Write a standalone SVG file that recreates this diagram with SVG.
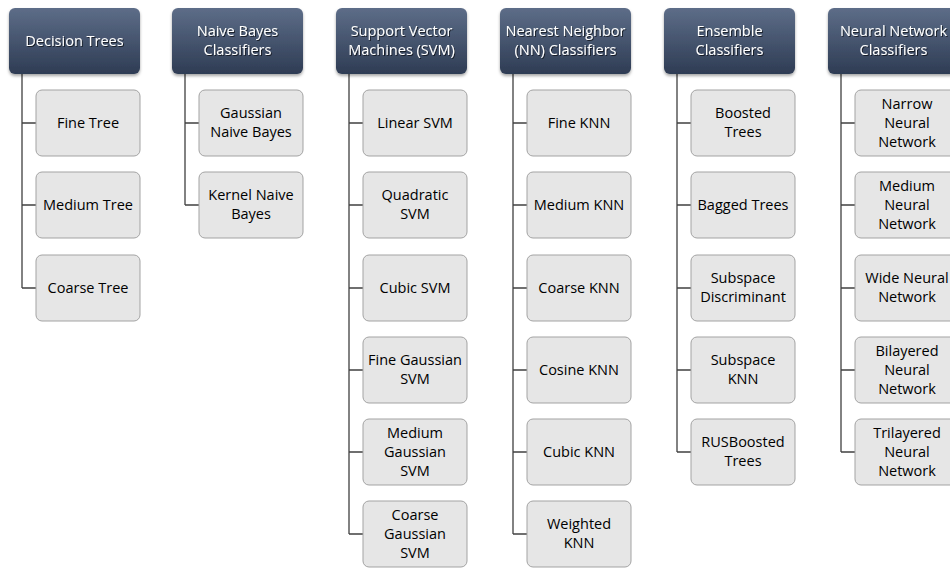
<svg xmlns="http://www.w3.org/2000/svg" width="950" height="568" viewBox="0 0 950 568">
  <defs>
    <linearGradient id="hdrGrad" x1="0" y1="0" x2="0" y2="1">
      <stop offset="0" stop-color="#5d6d88"/>
      <stop offset="1" stop-color="#2e3c54"/>
    </linearGradient>
    <filter id="shadow" x="-10%" y="-10%" width="130%" height="140%">
      <feDropShadow dx="0" dy="2" stdDeviation="1.5" flood-color="#000" flood-opacity="0.35"/>
    </filter>
    <filter id="txtShadow" x="-10%" y="-20%" width="120%" height="150%">
      <feDropShadow dx="1" dy="1" stdDeviation="0.6" flood-color="#000" flood-opacity="0.6"/>
    </filter>
  </defs>
  <style>
    .hdr rect { fill: url(#hdrGrad); filter: url(#shadow); }
    .hdr text { fill: #ffffff; font-family: "Open Sans", "Liberation Sans", sans-serif; font-size: 14.5px; text-anchor: middle; filter: url(#txtShadow); }
    .leaf rect { fill: #e6e6e6; stroke: #a3a3a3; stroke-width: 1; }
    .leaf text { fill: #000000; font-family: "Open Sans", "Liberation Sans", sans-serif; font-size: 14.5px; text-anchor: middle; }
    .conn path { fill: none; stroke: #404040; stroke-width: 1.3; }
  </style>
  <rect width="950" height="568" fill="#ffffff"/>

  <!-- tree connectors -->
  <g id="connectors" class="conn">
    <path d="M22 74 V288 M22 123 H36 M22 205 H36 M22 288 H36"/>
    <path d="M185 74 V205 M185 123 H199 M185 205 H199"/>
    <path d="M349 74 V534 M349 123 H363 M349 205 H363 M349 288 H363 M349 370 H363 M349 452 H363 M349 534 H363"/>
    <path d="M513 74 V534 M513 123 H527 M513 205 H527 M513 288 H527 M513 370 H527 M513 452 H527 M513 534 H527"/>
    <path d="M677 74 V452 M677 123 H691 M677 205 H691 M677 288 H691 M677 370 H691 M677 452 H691"/>
    <path d="M841 74 V452 M841 123 H855 M841 205 H855 M841 288 H855 M841 370 H855 M841 452 H855"/>
  </g>

  <!-- category headers -->
  <g id="hdr-decision-trees" class="hdr"><rect x="9" y="8" width="131" height="66" rx="6"/><text x="74.5" y="46">Decision Trees</text></g>
  <g id="hdr-naive-bayes" class="hdr"><rect x="172" y="8" width="131" height="66" rx="6"/><text x="237.5" y="36">Naive Bayes</text><text x="237.5" y="55">Classifiers</text></g>
  <g id="hdr-svm" class="hdr"><rect x="336" y="8" width="131" height="66" rx="6"/><text x="401.5" y="36">Support Vector</text><text x="401.5" y="55">Machines (SVM)</text></g>
  <g id="hdr-nn" class="hdr"><rect x="500" y="8" width="131" height="66" rx="6"/><text x="565.5" y="36">Nearest Neighbor</text><text x="565.5" y="55">(NN) Classifiers</text></g>
  <g id="hdr-ensemble" class="hdr"><rect x="664" y="8" width="131" height="66" rx="6"/><text x="729.5" y="36">Ensemble</text><text x="729.5" y="55">Classifiers</text></g>
  <g id="hdr-neural" class="hdr"><rect x="828" y="8" width="131" height="66" rx="6"/><text x="893.5" y="36">Neural Network</text><text x="893.5" y="55">Classifiers</text></g>

  <!-- Decision Trees -->
  <g id="fine-tree" class="leaf"><rect x="36" y="90" width="104" height="66" rx="6"/><text x="88" y="128">Fine Tree</text></g>
  <g id="medium-tree" class="leaf"><rect x="36" y="172" width="104" height="66" rx="6"/><text x="88" y="210">Medium Tree</text></g>
  <g id="coarse-tree" class="leaf"><rect x="36" y="255" width="104" height="66" rx="6"/><text x="88" y="293">Coarse Tree</text></g>

  <!-- Naive Bayes -->
  <g id="gaussian-nb" class="leaf"><rect x="199" y="90" width="104" height="66" rx="6"/><text x="251" y="118">Gaussian</text><text x="251" y="137">Naive Bayes</text></g>
  <g id="kernel-nb" class="leaf"><rect x="199" y="172" width="104" height="66" rx="6"/><text x="251" y="200">Kernel Naive</text><text x="251" y="219">Bayes</text></g>

  <!-- SVM -->
  <g id="linear-svm" class="leaf"><rect x="363" y="90" width="104" height="66" rx="6"/><text x="415" y="128">Linear SVM</text></g>
  <g id="quadratic-svm" class="leaf"><rect x="363" y="172" width="104" height="66" rx="6"/><text x="415" y="200">Quadratic</text><text x="415" y="219">SVM</text></g>
  <g id="cubic-svm" class="leaf"><rect x="363" y="255" width="104" height="66" rx="6"/><text x="415" y="293">Cubic SVM</text></g>
  <g id="fine-gaussian-svm" class="leaf"><rect x="363" y="337" width="104" height="66" rx="6"/><text x="415" y="365">Fine Gaussian</text><text x="415" y="384">SVM</text></g>
  <g id="medium-gaussian-svm" class="leaf"><rect x="363" y="419" width="104" height="66" rx="6"/><text x="415" y="438">Medium</text><text x="415" y="457">Gaussian</text><text x="415" y="476">SVM</text></g>
  <g id="coarse-gaussian-svm" class="leaf"><rect x="363" y="501" width="104" height="66" rx="6"/><text x="415" y="520">Coarse</text><text x="415" y="539">Gaussian</text><text x="415" y="558">SVM</text></g>

  <!-- Nearest Neighbor -->
  <g id="fine-knn" class="leaf"><rect x="527" y="90" width="104" height="66" rx="6"/><text x="579" y="128">Fine KNN</text></g>
  <g id="medium-knn" class="leaf"><rect x="527" y="172" width="104" height="66" rx="6"/><text x="579" y="210">Medium KNN</text></g>
  <g id="coarse-knn" class="leaf"><rect x="527" y="255" width="104" height="66" rx="6"/><text x="579" y="293">Coarse KNN</text></g>
  <g id="cosine-knn" class="leaf"><rect x="527" y="337" width="104" height="66" rx="6"/><text x="579" y="375">Cosine KNN</text></g>
  <g id="cubic-knn" class="leaf"><rect x="527" y="419" width="104" height="66" rx="6"/><text x="579" y="457">Cubic KNN</text></g>
  <g id="weighted-knn" class="leaf"><rect x="527" y="501" width="104" height="66" rx="6"/><text x="579" y="529">Weighted</text><text x="579" y="548">KNN</text></g>

  <!-- Ensemble -->
  <g id="boosted-trees" class="leaf"><rect x="691" y="90" width="104" height="66" rx="6"/><text x="743" y="118">Boosted</text><text x="743" y="137">Trees</text></g>
  <g id="bagged-trees" class="leaf"><rect x="691" y="172" width="104" height="66" rx="6"/><text x="743" y="210">Bagged Trees</text></g>
  <g id="subspace-discriminant" class="leaf"><rect x="691" y="255" width="104" height="66" rx="6"/><text x="743" y="283">Subspace</text><text x="743" y="302">Discriminant</text></g>
  <g id="subspace-knn" class="leaf"><rect x="691" y="337" width="104" height="66" rx="6"/><text x="743" y="365">Subspace</text><text x="743" y="384">KNN</text></g>
  <g id="rusboosted-trees" class="leaf"><rect x="691" y="419" width="104" height="66" rx="6"/><text x="743" y="447">RUSBoosted</text><text x="743" y="466">Trees</text></g>

  <!-- Neural Network -->
  <g id="narrow-nn" class="leaf"><rect x="855" y="90" width="104" height="66" rx="6"/><text x="907" y="109">Narrow</text><text x="907" y="128">Neural</text><text x="907" y="147">Network</text></g>
  <g id="medium-nn" class="leaf"><rect x="855" y="172" width="104" height="66" rx="6"/><text x="907" y="191">Medium</text><text x="907" y="210">Neural</text><text x="907" y="229">Network</text></g>
  <g id="wide-nn" class="leaf"><rect x="855" y="255" width="104" height="66" rx="6"/><text x="907" y="283">Wide Neural</text><text x="907" y="302">Network</text></g>
  <g id="bilayered-nn" class="leaf"><rect x="855" y="337" width="104" height="66" rx="6"/><text x="907" y="356">Bilayered</text><text x="907" y="375">Neural</text><text x="907" y="394">Network</text></g>
  <g id="trilayered-nn" class="leaf"><rect x="855" y="419" width="104" height="66" rx="6"/><text x="907" y="438">Trilayered</text><text x="907" y="457">Neural</text><text x="907" y="476">Network</text></g>
</svg>
